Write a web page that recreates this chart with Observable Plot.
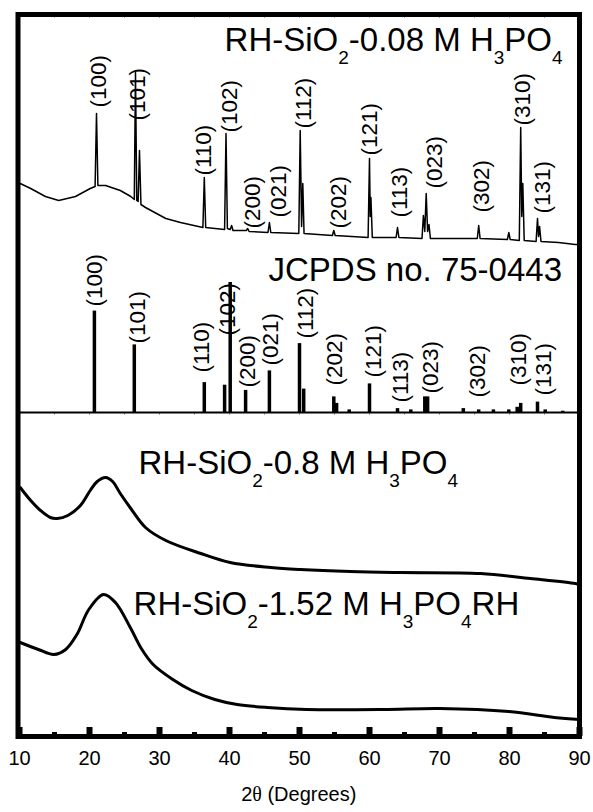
<!DOCTYPE html>
<html>
<head>
<meta charset="utf-8">
<script src="https://cdn.jsdelivr.net/npm/d3@7"></script>
<script src="https://cdn.jsdelivr.net/npm/@observablehq/plot@0.6"></script>
<style>
  body { margin: 0; background: #fff; }
  #chart svg { display: block; }
</style>
</head>
<body>
<div id="chart"></div>
<script>
// 2θ axis ticks (degrees)
const majorTicks = [10, 20, 30, 40, 50, 60, 70, 80, 90];
const minorTicks = [15, 25, 35, 45, 55, 65, 75, 85];

// RH-SiO2-0.08 M H3PO4 pattern: [2θ, stacked intensity (a.u.)]
const pattern008 = [
  [10.1,553],[11.6,548],[13.7,540],[15.6,536],[18.0,540],[20.1,548],[20.8,550],[21.0,623],[21.2,551],
  [22.3,551],[24.4,546],[25.9,540],[26.4,537],[26.57,664],[26.75,536],[26.95,535],[27.14,586],[27.35,532],
  [28.0,529],[30.9,518],[33.0,514],[36.2,509],[36.4,559],[36.6,509],[39.3,507],[39.5,603],[39.7,508],
  [40.1,507],[40.3,511],[40.5,506],[42.4,506],[42.6,508],[42.8,505],[45.5,504],[45.7,514],[45.9,504],
  [49.9,503],[50.1,606],[50.3,510],[50.47,553],[50.65,503],[54.7,501],[54.9,506],[55.1,501],
  [59.8,499],[60.0,578],[60.1,520],[60.2,539],[60.4,499],[63.8,499],[64.0,509],[64.2,499],
  [67.5,498],[67.7,521],[67.9,505],[68.1,543],[68.3,505],[68.5,512],[68.7,498],[75.4,498],[75.6,511],
  [75.8,498],[79.7,497],[79.9,504],[80.1,497],[81.4,496],[81.6,609],[81.75,520],[81.9,553],[82.1,496],
  [83.8,495],[84.0,518],[84.15,500],[84.3,510],[84.5,495],[87.0,494],[89.4,492],[90.0,492]
];

// RH-SiO2-0.8 M H3PO4 pattern
const pattern08 = [
  [10.1,249],[11.6,236],[13.0,226],[14.4,219],[15.4,218],[16.9,221],[18.7,231],[20.1,246],[21.1,255],
  [22.3,259],[23.3,255],[24.4,243],[25.9,228],[28.0,209],[30.9,196],[35.9,183],[40.1,174],[45.9,169],
  [50.1,167],[57.3,165],[64.4,164],[75.9,163],[83.0,158],[89.4,153],[90.0,152]
];

// RH-SiO2-1.52 M H3PO4 pattern
const pattern152 = [
  [10.1,94],[12.7,87],[14.9,82],[16.6,87],[18.2,102],[19.9,127],[22.0,142],[23.7,134],[25.9,108],
  [27.4,88],[29.1,72],[31.9,57],[34.6,46],[37.9,37],[41.1,32],[45.4,29],[51.0,27],[61.9,27],
  [70.0,28],[79.9,25],[86.4,19],[90.0,17]
];

// JCPDS no. 75-0443 reference lines: 2θ and relative intensity (%)
const refTheta = [20.7, 26.4, 36.4, 39.3, 40.1, 42.3, 45.7, 50.0, 50.6, 54.9, 55.3, 57.1, 60.0, 64.0,
                  65.9, 67.9, 68.3, 73.4, 75.6, 77.7, 79.9, 81.1, 81.6, 84.0, 85.1, 87.6];
const refIntensity = [78, 52, 23, 21, 100, 17, 32, 53, 18, 12, 7, 2, 22, 3,
                      2, 12, 12, 3, 2, 2, 2, 4, 7, 8, 2, 1];
const refOffset = 324;   // baseline of the reference pattern (a.u.)
const refScale = 1.3;    // a.u. per percent

// Miller indices and where their labels sit (2θ, a.u.)
const hkl = ["(100)","(101)","(110)","(102)","(200)","(021)","(112)","(202)","(121)","(113)","(023)","(302)","(310)","(131)"];
const sampleLabelTheta = [21.3, 26.86, 36.3, 40.1, 43.3, 47.0, 50.6, 55.6, 60.1, 64.3, 69.3, 76.1, 81.9, 84.7];
const sampleLabelY = [629, 616, 561, 604, 508, 519, 608, 508, 581, 519, 548, 524, 611, 523];
const refLabelTheta = [20.7, 26.9, 36.1, 39.7, 42.6, 45.9, 50.9, 55.1, 60.6, 64.4, 68.7, 75.4, 81.3, 84.9];
const refLabelY = [430, 393, 364, 401, 349, 371, 398, 351, 359, 334, 343, 339, 351, 341];

// Pattern names (underscore marks a subscript digit)
const seriesNames = ["RH-SiO_2-0.08 M H_3PO_4", "JCPDS no. 75-0443", "RH-SiO_2-0.8 M H_3PO_4", "RH-SiO_2-1.52 M H_3PO_4RH"];
const seriesNameTheta = [39.3, 45.57, 27.0, 26.3];
const seriesNameY = [686, 456, 263, 122];

const xLabel = "2θ (Degrees)";

const font = "'Liberation Sans', Arial, Helvetica, sans-serif";

const refData = refTheta.map((t, i) => ({theta: t, I: refIntensity[i]}));
const sampleLabels = hkl.map((h, i) => ({h, x: sampleLabelTheta[i], y: sampleLabelY[i]}));
const refLabels = hkl.map((h, i) => ({h, x: refLabelTheta[i], y: refLabelY[i]}));
const names = seriesNames.map((s, i) => ({s, x: seriesNameTheta[i], y: seriesNameY[i]}));

const chart = Plot.plot({
  width: 593,
  height: 812,
  marginLeft: 17.5,
  marginRight: 14,
  marginTop: 14,
  marginBottom: 76,
  style: {fontFamily: font, fontSize: "20px", color: "#000", background: "#fff"},
  x: {domain: [10, 90], range: [19, 579], axis: null},
  y: {domain: [0, 722], axis: null},
  marks: [
    // 2θ tick labels
    Plot.axisX({ticks: majorTicks, tickSize: 0, tickPadding: 14, tickFormat: d => String(d), label: null, fontSize: 20, fill: "#000"}),
    // faint minor ticks along the top edge and the reference baseline
    Plot.ruleX(d3.range(15, 90, 5), {y1: 722, y2: 718, stroke: "#aaa", strokeWidth: 1}),
    Plot.ruleX(d3.range(15, 90, 5), {y1: refOffset, y2: refOffset - 3, stroke: "#aaa", strokeWidth: 1}),
    // bottom axis ticks
    Plot.ruleX(majorTicks, {y1: 0, y2: 9, stroke: "#000", strokeWidth: 6}),
    Plot.ruleX(minorTicks, {y1: 0, y2: 4, stroke: "#000", strokeWidth: 5}),
    // reference baseline
    Plot.ruleY([refOffset], {stroke: "#000", strokeWidth: 2}),
    // reference stick pattern
    Plot.ruleX(refData, {x: "theta", y1: refOffset, y2: d => refOffset + d.I * refScale, stroke: "#000", strokeWidth: 3.5}),
    // measured patterns
    Plot.line(pattern008, {x: d => d[0], y: d => d[1], stroke: "#000", strokeWidth: 1.5, strokeLinejoin: "round"}),
    Plot.line(pattern08, {x: d => d[0], y: d => d[1], stroke: "#000", strokeWidth: 3, strokeLinejoin: "round", curve: "catmull-rom"}),
    Plot.line(pattern152, {x: d => d[0], y: d => d[1], stroke: "#000", strokeWidth: 3, strokeLinejoin: "round", curve: "catmull-rom"}),
    // Miller index labels
    Plot.text(sampleLabels, {x: "x", y: "y", text: "h", rotate: -90, textAnchor: "start", fontSize: 22.5, fill: "#000"}),
    Plot.text(refLabels, {x: "x", y: "y", text: "h", rotate: -90, textAnchor: "start", fontSize: 22.5, fill: "#000"}),
    // pattern names
    Plot.text(names, {x: "x", y: "y", text: "s", textAnchor: "start", lineAnchor: "bottom", fontSize: 33, fill: "#000"}),
    // axis title
    Plot.text([xLabel], {frameAnchor: "bottom", dy: 64, fontSize: 20, fill: "#000"}),
    Plot.frame({stroke: "#000", strokeWidth: 5})
  ]
});

// turn "_d" into subscript digits, and set θ in a serif face
chart.querySelectorAll("text").forEach(t => {
  const s = t.textContent;
  const ns = "http://www.w3.org/2000/svg";
  if (s.includes("_")) {
    t.textContent = "";
    const parts = s.split(/_(\d)/);
    let shift = 0;
    parts.forEach((p, i) => {
      if (!p) return;
      const ts = document.createElementNS(ns, "tspan");
      ts.textContent = p;
      const target = i % 2 === 1 ? 13 : 0;
      if (target !== shift) ts.setAttribute("dy", target - shift);
      shift = target;
      if (i % 2 === 1) ts.setAttribute("font-size", 19);
      t.appendChild(ts);
    });
  } else if (s.includes("θ")) {
    t.textContent = "";
    const [a, b] = s.split("θ");
    t.appendChild(document.createTextNode(a));
    const th = document.createElementNS(ns, "tspan");
    th.setAttribute("font-family", "'Liberation Serif', 'DejaVu Serif', serif");
    th.textContent = "θ";
    t.appendChild(th);
    t.appendChild(document.createTextNode(b));
  }
});

document.getElementById("chart").appendChild(chart);
</script>
</body>
</html>
